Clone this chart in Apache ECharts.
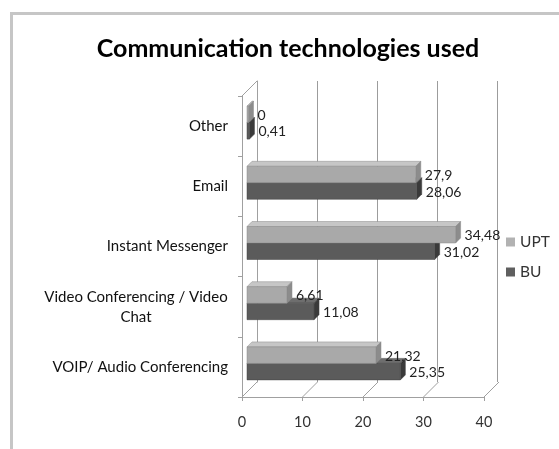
<!DOCTYPE html>
<html>
<head>
<meta charset="utf-8">
<script src="https://cdn.jsdelivr.net/npm/echarts@6/dist/echarts.min.js"></script>
<style>html,body{margin:0;padding:0;background:#fff}#c{width:559px;height:449px}</style>
</head>
<body>
<div id="c"></div>
<script>
// Categories, top to bottom
var categories = ['Other', 'Email', 'Instant Messenger', 'Video Conferencing / Video Chat', 'VOIP/ Audio Conferencing'];
var seriesNames = ['UPT', 'BU'];
var uptValues = [0, 27.9, 34.48, 6.61, 21.32];
var buValues = [0.41, 28.06, 31.02, 11.08, 25.35];
var xTicks = [0, 10, 20, 30, 40];

var FONT = 'Lato, "Open Sans", sans-serif';
var DEPTH = 5, BAR_H = 16.5, SHIFT = 5, BAR_DY = -3.5;

function fmt(v) { return String(v).replace('.', ','); }

function makeBarRender(which, colors) {
  return function (params, api) {
    var cat = api.value(0), v = api.value(1);
    var c0 = api.coord([0, cat]), c1 = api.coord([v, cat]);
    var mid = c0[1] + BAR_DY;
    var y0 = which === 0 ? mid - BAR_H : mid;
    var y1 = y0 + BAR_H;
    var x0 = c0[0] + SHIFT, x1 = Math.max(c1[0] + SHIFT, x0 + 1.5);
    var d = DEPTH;
    return {
      type: 'group',
      children: [
        { type: 'polygon', shape: { points: [[x0, y0], [x0 + d, y0 - d], [x1 + d, y0 - d], [x1, y0]] },
          style: { fill: colors.top, stroke: colors.edge, lineWidth: 0.5 } },
        { type: 'polygon', shape: { points: [[x1, y0], [x1 + d, y0 - d], [x1 + d, y1 - d], [x1, y1]] },
          style: { fill: colors.side, stroke: colors.edge, lineWidth: 0.5 } },
        { type: 'rect', shape: { x: x0, y: y0, width: x1 - x0, height: y1 - y0 },
          style: { fill: colors.front, stroke: colors.edge, lineWidth: 0.5 } },
        { type: 'text', style: { text: fmt(v), x: x1 + d + 4, y: (y0 + y1) / 2 + 1, verticalAlign: 'middle',
          fill: '#222', font: '14px ' + FONT } }
      ]
    };
  };
}

function toData(arr) { return arr.map(function (v, i) { return [i, v]; }); }

var chart = echarts.init(document.getElementById('c'), null, { renderer: 'canvas' });
chart.setOption({
  backgroundColor: '#fff',
  animation: false,
  title: {
    text: 'Communication technologies used',
    left: 283, top: 31, textAlign: 'center',
    textStyle: { fontFamily: FONT, fontWeight: 'bold', fontSize: 25, color: '#000' }
  },
  legend: {
    data: seriesNames, orient: 'vertical', left: 506, top: 234,
    itemWidth: 9, itemHeight: 9, itemGap: 14, icon: 'rect', padding: 0,
    textStyle: { fontFamily: FONT, fontSize: 15.5, color: '#333' }
  },
  graphic: [
    { type: 'rect', left: 9, top: 11, shape: { width: 580, height: 470 },
      style: { fill: 'none', stroke: '#c6c6c6', lineWidth: 3 }, silent: true }
  ],
  grid: [
    { left: 257, top: 81, width: 240, height: 301 },
    { left: 242, top: 96, width: 242, height: 301 }
  ],
  xAxis: [
    { gridIndex: 0, type: 'value', min: 0, max: 40, interval: 10,
      axisLine: { show: false }, axisTick: { show: false }, axisLabel: { show: false },
      splitLine: { show: true, lineStyle: { color: '#9c9c9c', width: 1 } } },
    { gridIndex: 1, type: 'value', min: 0, max: 40, interval: 10,
      axisLine: { show: true, lineStyle: { color: '#a0a0a0' } },
      axisTick: { show: true, length: 4, lineStyle: { color: '#a0a0a0' } },
      splitLine: { show: false },
      axisLabel: { fontFamily: FONT, fontSize: 14.5, color: '#333', margin: 18 } }
  ],
  yAxis: [
    { gridIndex: 0, type: 'category', data: categories, inverse: true,
      axisLine: { show: true, lineStyle: { color: '#a0a0a0' } }, axisTick: { show: false },
      axisLabel: { show: false } },
    { gridIndex: 1, type: 'category', data: categories, inverse: true,
      axisLine: { show: true, lineStyle: { color: '#a0a0a0' } },
      axisTick: { show: true, length: 4, lineStyle: { color: '#a0a0a0' } },
      axisLabel: {
        fontFamily: FONT, fontSize: 15, color: '#111', margin: 14, lineHeight: 20,
        formatter: function (v) {
          if (v === 'Video Conferencing / Video Chat') return '{c|Video Conferencing / Video\nChat}';
          return v;
        },
        rich: { c: { fontFamily: FONT, fontSize: 15, color: '#111', width: 184, align: 'center', lineHeight: 20 } }
      } }
  ],
  series: [
    { name: 'UPT', type: 'custom', xAxisIndex: 1, yAxisIndex: 1, z: 4,
      itemStyle: { color: '#b2b2b2' }, encode: { x: 1, y: 0 },
      renderItem: makeBarRender(0, { front: '#a9a9a9', top: '#c6c6c6', side: '#8c8c8c', edge: '#8a8a8a' }),
      data: toData(uptValues) },
    { name: 'BU', type: 'custom', xAxisIndex: 1, yAxisIndex: 1, z: 3,
      itemStyle: { color: '#5f5f5f' }, encode: { x: 1, y: 0 },
      renderItem: makeBarRender(1, { front: '#5b5b5b', top: '#6e6e6e', side: '#3a3a3a', edge: '#444' }),
      data: toData(buValues) },
    { name: 'frame', type: 'custom', xAxisIndex: 1, yAxisIndex: 1, z: 1, silent: true,
      encode: { x: 0 },
      renderItem: function (params, api) {
        var x = api.value(0);
        var band = api.size([0, 1])[1];
        var pB = api.coord([x, categories.length - 1]);
        var yb = pB[1] + band / 2;
        var children = [{ type: 'line', shape: { x1: pB[0], y1: yb, x2: pB[0] + 15, y2: yb - 15 },
          style: { stroke: '#a0a0a0', lineWidth: 1 } }];
        if (x === 0) {
          var pT = api.coord([0, 0]);
          var yt = pT[1] - band / 2;
          children.push({ type: 'line', shape: { x1: pT[0], y1: yt, x2: pT[0] + 15, y2: yt - 15 },
            style: { stroke: '#a0a0a0', lineWidth: 1 } });
        }
        return { type: 'group', children: children };
      },
      data: xTicks.map(function (t) { return [t]; }) }
  ]
});
</script>
</body>
</html>
